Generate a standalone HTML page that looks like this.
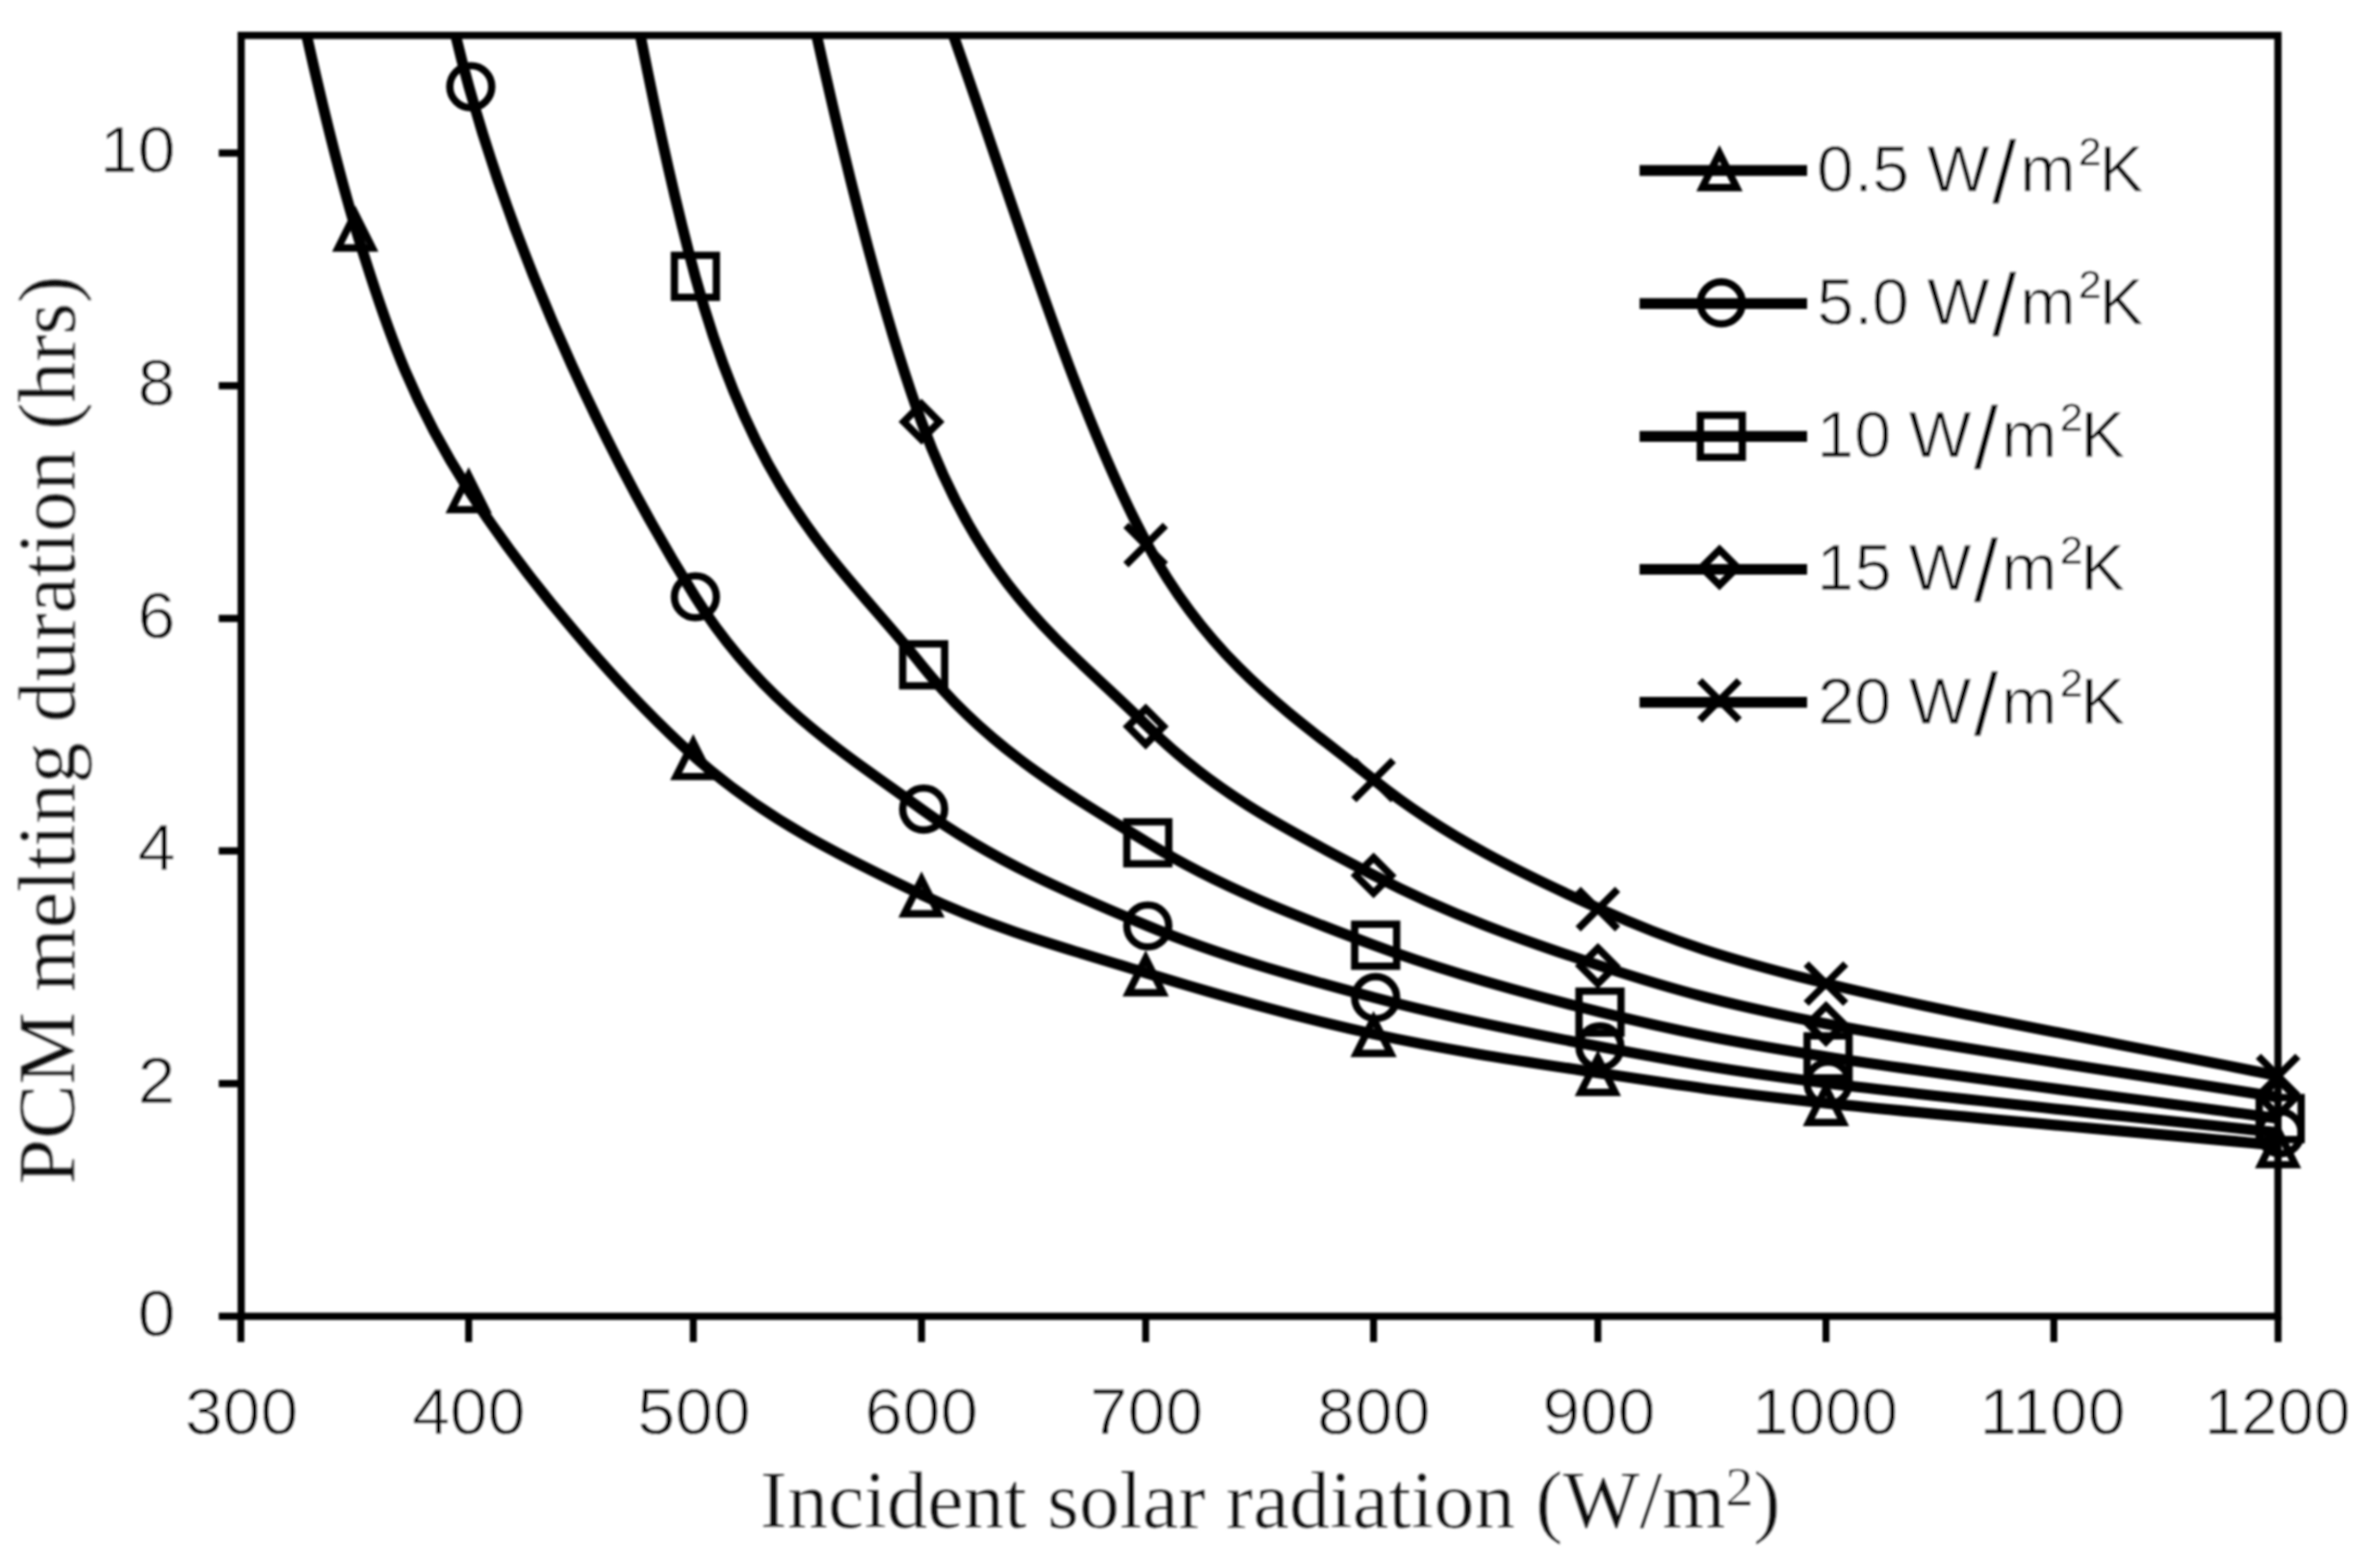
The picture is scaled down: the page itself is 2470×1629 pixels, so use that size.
<!DOCTYPE html>
<html lang="en"><head><meta charset="utf-8"><title>PCM melting duration vs incident solar radiation</title>
<style>html,body{margin:0;padding:0;background:#fff}body{width:2470px;height:1629px;overflow:hidden}svg{display:block}.sans{font-family:"Liberation Sans",sans-serif;fill:#000;stroke:#fff;stroke-width:0.8px}.serif{font-family:"Liberation Serif",serif;fill:#0a0a0a;stroke:#fff;stroke-width:0.5px}</style></head><body>
<svg width="2470" height="1629" viewBox="0 0 2470 1629">
<rect width="2470" height="1629" fill="#fff"/>
<defs><clipPath id="plot"><rect x="250.5" y="36.8" width="2115.6" height="1330.7"/></clipPath><filter id="soft" x="0" y="0" width="2470" height="1629" filterUnits="userSpaceOnUse"><feGaussianBlur stdDeviation="1.1"/></filter></defs>
<g filter="url(#soft)">
<g clip-path="url(#plot)" fill="none" stroke="#000" stroke-width="11.2" stroke-linejoin="round">
<path d="M251.9,-265.2C290.3,-101.1 327.8,100.3 369.5,237.6C404.6,353.2 431.3,422.7 487.0,509.5C546.4,601.9 642.0,715.3 722.1,786.8C795.5,852.4 879.2,892.2 957.1,929.4C1032.7,965.5 1115.2,987.6 1192.2,1011.4C1268.7,1034.9 1350.3,1057.5 1427.3,1074.4C1503.8,1091.3 1585.5,1103.2 1662.3,1114.9C1739.0,1126.6 1794.5,1135.2 1897.4,1146.1C2024.7,1159.6 2214.1,1175.7 2367.5,1190.0"/>
<path d="M369.5,-644.7C407.8,-404.8 427.2,-124.2 487.0,90.1C542.3,288.6 638.4,486.5 722.1,620.0C791.9,731.4 878.1,783.1 957.1,840.6C1031.5,894.7 1114.6,929.7 1192.2,962.0C1268.1,993.7 1350.3,1015.8 1427.3,1036.4C1503.7,1056.8 1585.5,1073.0 1662.3,1087.5C1738.9,1102.0 1794.5,1112.3 1897.4,1125.3C2024.7,1141.4 2214.1,1160.0 2367.5,1176.8"/>
<path d="M487.0,-1035.0C563.7,-603.5 632.9,-40.1 722.1,287.1C786.4,523.2 875.1,588.1 957.1,690.7C1028.6,780.2 1113.7,827.0 1192.2,875.6C1267.2,922.1 1349.9,953.1 1427.3,982.0C1503.4,1010.5 1585.3,1032.5 1662.3,1051.5C1738.8,1070.3 1794.4,1081.9 1897.4,1098.0C2024.6,1117.9 2214.1,1141.1 2367.5,1162.1"/>
<path d="M722.1,-535.9C798.8,-218.0 869.4,197.4 957.1,438.2C1022.9,618.7 1111.5,673.9 1192.2,754.8C1264.9,827.7 1349.3,868.2 1427.3,909.5C1502.7,949.4 1585.1,978.1 1662.3,1003.5C1738.6,1028.5 1794.3,1043.8 1897.4,1063.8C2024.4,1088.4 2214.1,1115.2 2367.5,1140.1"/>
<path d="M957.1,-54.9C1033.9,147.8 1107.5,410.4 1192.2,566.3C1261.0,692.9 1347.9,746.5 1427.3,810.4C1501.3,870.0 1584.6,909.5 1662.3,944.5C1738.0,978.6 1794.1,996.5 1897.4,1021.9C2024.2,1053.1 2214.1,1086.6 2367.5,1117.9"/>
</g>
<g fill="none" stroke="#000" stroke-width="7.6" stroke-linejoin="miter" stroke-miterlimit="10">
<path d="M369.0,221.9L386.9,257.6L351.1,257.6Z"/>
<path d="M486.8,493.8L504.7,529.5L468.9,529.5Z"/>
<path d="M720.1,771.1L738.0,806.8L702.2,806.8Z"/>
<path d="M957.2,913.7L975.1,949.4L939.3,949.4Z"/>
<path d="M1190.0,995.7L1207.9,1031.4L1172.1,1031.4Z"/>
<path d="M1426.7,1058.7L1444.6,1094.4L1408.8,1094.4Z"/>
<path d="M1659.7,1099.2L1677.6,1134.9L1641.8,1134.9Z"/>
<path d="M1896.6,1130.4L1914.5,1166.1L1878.7,1166.1Z"/>
<path d="M2366.2,1174.3L2384.1,1210.0L2348.3,1210.0Z"/>
<circle cx="489.0" cy="90.1" r="21.8"/>
<circle cx="722.3" cy="620.0" r="21.8"/>
<circle cx="959.4" cy="840.6" r="21.8"/>
<circle cx="1192.2" cy="962.0" r="21.8"/>
<circle cx="1428.9" cy="1036.4" r="21.8"/>
<circle cx="1661.9" cy="1087.5" r="21.8"/>
<circle cx="1898.8" cy="1125.3" r="21.8"/>
<circle cx="2368.4" cy="1176.8" r="21.8"/>
<rect x="700.5" y="265.3" width="43.6" height="43.6"/>
<rect x="937.6" y="668.9" width="43.6" height="43.6"/>
<rect x="1170.4" y="853.8" width="43.6" height="43.6"/>
<rect x="1407.1" y="960.2" width="43.6" height="43.6"/>
<rect x="1640.1" y="1029.7" width="43.6" height="43.6"/>
<rect x="1877.0" y="1076.2" width="43.6" height="43.6"/>
<rect x="2346.6" y="1140.3" width="43.6" height="43.6"/>
<path d="M957.2,419.7L975.7,438.2L957.2,456.7L938.7,438.2Z"/>
<path d="M1190.0,736.3L1208.5,754.8L1190.0,773.3L1171.5,754.8Z"/>
<path d="M1426.7,891.0L1445.2,909.5L1426.7,928.0L1408.2,909.5Z"/>
<path d="M1659.7,985.0L1678.2,1003.5L1659.7,1022.0L1641.2,1003.5Z"/>
<path d="M1896.6,1045.3L1915.1,1063.8L1896.6,1082.3L1878.1,1063.8Z"/>
<path d="M2366.2,1121.6L2384.7,1140.1L2366.2,1158.6L2347.7,1140.1Z"/>
<path d="M1169.5,545.8L1210.5,586.8M1169.5,586.8L1210.5,545.8"/>
<path d="M1406.2,789.9L1447.2,830.9M1406.2,830.9L1447.2,789.9"/>
<path d="M1639.2,924.0L1680.2,965.0M1639.2,965.0L1680.2,924.0"/>
<path d="M1876.1,1001.4L1917.1,1042.4M1876.1,1042.4L1917.1,1001.4"/>
<path d="M2345.7,1097.4L2386.7,1138.4M2345.7,1138.4L2386.7,1097.4"/>
</g>
<g fill="none" stroke="#000">
<rect x="250.5" y="36.8" width="2115.6" height="1330.7" stroke-width="7.5"/>
<path d="M250.2,1367.5V1394.3M486.8,1367.5V1394.3M720.1,1367.5V1394.3M957.2,1367.5V1394.3M1190.0,1367.5V1394.3M1426.7,1367.5V1394.3M1659.7,1367.5V1394.3M1896.6,1367.5V1394.3M2133.3,1367.5V1394.3M2366.2,1367.5V1394.3" stroke-width="7.2"/>
<path d="M227.2,1367.5H250.5M227.2,1125.8H250.5M227.2,884.1H250.5M227.2,642.4H250.5M227.2,400.7H250.5M227.2,159.0H250.5" stroke-width="7.5"/>
</g>
<g class="sans" font-size="69.0">
<text x="192.0" y="1489.6" textLength="117.6" lengthAdjust="spacingAndGlyphs">300</text>
<text x="428.0" y="1489.6" textLength="117.6" lengthAdjust="spacingAndGlyphs">400</text>
<text x="662.0" y="1489.6" textLength="117.6" lengthAdjust="spacingAndGlyphs">500</text>
<text x="898.3" y="1489.6" textLength="117.6" lengthAdjust="spacingAndGlyphs">600</text>
<text x="1132.0" y="1489.6" textLength="117.6" lengthAdjust="spacingAndGlyphs">700</text>
<text x="1368.1" y="1489.6" textLength="117.6" lengthAdjust="spacingAndGlyphs">800</text>
<text x="1601.9" y="1489.6" textLength="117.6" lengthAdjust="spacingAndGlyphs">900</text>
<text x="1819.9" y="1489.6" textLength="151.6" lengthAdjust="spacingAndGlyphs">1000</text>
<text x="2056.0" y="1489.6" textLength="151.6" lengthAdjust="spacingAndGlyphs">1100</text>
<text x="2289.8" y="1489.6" textLength="151.6" lengthAdjust="spacingAndGlyphs">1200</text>
<text x="143.0" y="1387.8" textLength="39.2" lengthAdjust="spacingAndGlyphs">0</text>
<text x="143.0" y="1146.1" textLength="39.2" lengthAdjust="spacingAndGlyphs">2</text>
<text x="143.0" y="904.4" textLength="39.2" lengthAdjust="spacingAndGlyphs">4</text>
<text x="143.0" y="662.7" textLength="39.2" lengthAdjust="spacingAndGlyphs">6</text>
<text x="143.0" y="421.0" textLength="39.2" lengthAdjust="spacingAndGlyphs">8</text>
<text x="103.8" y="179.3" textLength="78.4" lengthAdjust="spacingAndGlyphs">10</text>
</g>
<text class="serif" font-size="84.5" x="789.5" y="1587" textLength="1060" lengthAdjust="spacingAndGlyphs">Incident solar radiation (W/m<tspan font-size="58" dy="-23">2</tspan><tspan dy="23">)</tspan></text>
<text class="serif" font-size="85" transform="translate(77.5,1230.5) rotate(-90)" textLength="944" lengthAdjust="spacingAndGlyphs">PCM melting duration (hrs)</text>
<g fill="none" stroke="#000" stroke-width="11.2">
<path d="M1703.0,177.1H1877.0"/>
<path d="M1703.0,315.3H1877.0"/>
<path d="M1703.0,453.3H1877.0"/>
<path d="M1703.0,591.5H1877.0"/>
<path d="M1703.0,729.6H1877.0"/>
</g>
<g fill="none" stroke="#000" stroke-width="7.6" stroke-miterlimit="10">
<path d="M1786.0,159.2L1803.9,194.9L1768.1,194.9Z"/>
<circle cx="1787.9" cy="314.7" r="21.8"/>
<rect x="1766.1" y="431.5" width="43.6" height="43.6"/>
<path d="M1786.0,571.0L1804.5,589.5L1786.0,608.0L1767.5,589.5Z"/>
<path d="M1765.5,707.1L1806.5,748.1M1765.5,748.1L1806.5,707.1"/>
</g>
<g class="sans" font-size="69.0">
<text><tspan x="1887.0" y="199.0">0</tspan><tspan x="1926.0" y="199.0">.</tspan><tspan x="1944.7" y="199.0">5 </tspan><tspan x="2001.6" y="199.0">W</tspan><tspan x="2069.1" y="211.0" font-size="92">/</tspan><tspan x="2098.2" y="199.0">m</tspan><tspan x="2159.3" y="190.5">²</tspan><tspan x="2180.5" y="199.0">K</tspan></text>
<text><tspan x="1887.3" y="337.2">5</tspan><tspan x="1926.0" y="337.2">.</tspan><tspan x="1944.4" y="337.2">0 </tspan><tspan x="2001.6" y="337.2">W</tspan><tspan x="2069.1" y="349.2" font-size="92">/</tspan><tspan x="2098.2" y="337.2">m</tspan><tspan x="2159.3" y="328.7">²</tspan><tspan x="2180.5" y="337.2">K</tspan></text>
<text><tspan x="1886.9" y="475.2">1</tspan><tspan x="1926.1" y="475.2">0 </tspan><tspan x="1982.4" y="475.2">W</tspan><tspan x="2049.9" y="487.2" font-size="92">/</tspan><tspan x="2079.0" y="475.2">m</tspan><tspan x="2140.1" y="466.7">²</tspan><tspan x="2161.3" y="475.2">K</tspan></text>
<text><tspan x="1886.9" y="613.4">1</tspan><tspan x="1926.4" y="613.4">5 </tspan><tspan x="1982.4" y="613.4">W</tspan><tspan x="2049.9" y="625.4" font-size="92">/</tspan><tspan x="2079.0" y="613.4">m</tspan><tspan x="2140.1" y="604.9">²</tspan><tspan x="2161.3" y="613.4">K</tspan></text>
<text><tspan x="1888.0" y="751.5">2</tspan><tspan x="1926.1" y="751.5">0 </tspan><tspan x="1982.4" y="751.5">W</tspan><tspan x="2049.9" y="763.5" font-size="92">/</tspan><tspan x="2079.0" y="751.5">m</tspan><tspan x="2140.1" y="743.0">²</tspan><tspan x="2161.3" y="751.5">K</tspan></text>
</g>
</g>
</svg></body></html>
